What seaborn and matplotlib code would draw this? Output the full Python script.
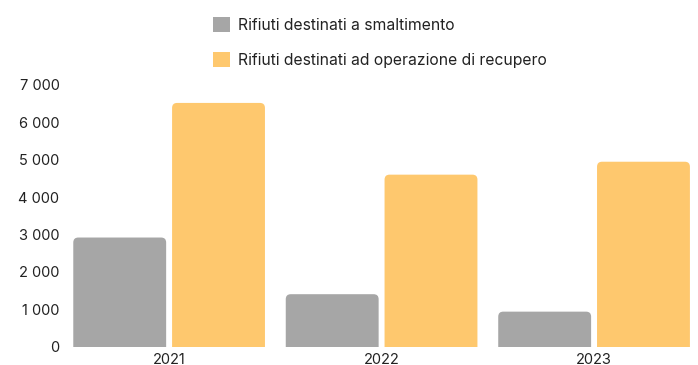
import matplotlib
matplotlib.use("Agg")
import matplotlib.pyplot as plt
from matplotlib.patches import FancyBboxPatch, Patch
from matplotlib.ticker import FuncFormatter
import seaborn as sns
import pandas as pd

years = ["2021", "2022", "2023"]
smaltimento = [2917, 1400, 933]
recupero = [6520, 4600, 4946]
series_names = ["Rifiuti destinati a smaltimento",
                "Rifiuti destinati ad operazione di recupero"]
colors = ["#A6A6A6", "#FEC86E"]

df = pd.DataFrame({
    "anno": years * 2,
    "valore": smaltimento + recupero,
    "serie": [series_names[0]] * 3 + [series_names[1]] * 3,
})

sns.set_theme(style="white")
plt.rcParams["font.family"] = ["Inter", "DejaVu Sans"]

W, H = 698, 365
fig = plt.figure(figsize=(W / 100, H / 100), dpi=100)
ax_left, ax_right, ax_top, ax_bottom = 65, 695, 85, 346.5
ax = fig.add_axes([ax_left / W, (H - ax_bottom) / H,
                   (ax_right - ax_left) / W, (ax_bottom - ax_top) / H])

sns.barplot(data=df, x="anno", y="valore", hue="serie", palette=colors,
            width=0.93, gap=0.06, ax=ax, legend=False, saturation=1)

ax.set_xlim(-0.49, 2.475)
ax.set_ylim(0, 7000)
ax.set_yticks(range(0, 7001, 1000))
ax.yaxis.set_major_formatter(FuncFormatter(lambda v, p: f"{int(v):,}".replace(",", " ")))
ax.set_xlabel("")
ax.set_ylabel("")
for s in ax.spines.values():
    s.set_visible(False)
ax.tick_params(axis="both", length=0, labelsize=10.5, colors="#222222")
ax.tick_params(axis="y", pad=4)
ax.tick_params(axis="x", pad=5)

# replace plain bars with top-rounded ones
xr = ax.get_xlim()[1] - ax.get_xlim()[0]
yr = ax.get_ylim()[1] - ax.get_ylim()[0]
px_w = ax_right - ax_left
px_h = ax_bottom - ax_top
aspect = (yr / px_h) / (xr / px_w)
radius = 5 * xr / px_w
for bar in list(ax.patches):
    x, w, h = bar.get_x(), bar.get_width(), bar.get_height()
    fc = bar.get_facecolor()
    bar.remove()
    rp = FancyBboxPatch((x, -500), w, h + 500,
                        boxstyle=f"round,pad=0,rounding_size={radius}",
                        mutation_aspect=aspect, facecolor=fc, edgecolor="none")
    ax.add_patch(rp)

handles = [Patch(facecolor=c, edgecolor="none") for c in colors]
fig.legend(handles, series_names, loc="upper left",
           bbox_to_anchor=(199 / W, 1 - 3 / H), frameon=False,
           fontsize=11.3, labelspacing=1.2, handlelength=1.1, handleheight=1.1,
           handletextpad=0.5, labelcolor="#222222")

fig.savefig("out.png", dpi=100)
